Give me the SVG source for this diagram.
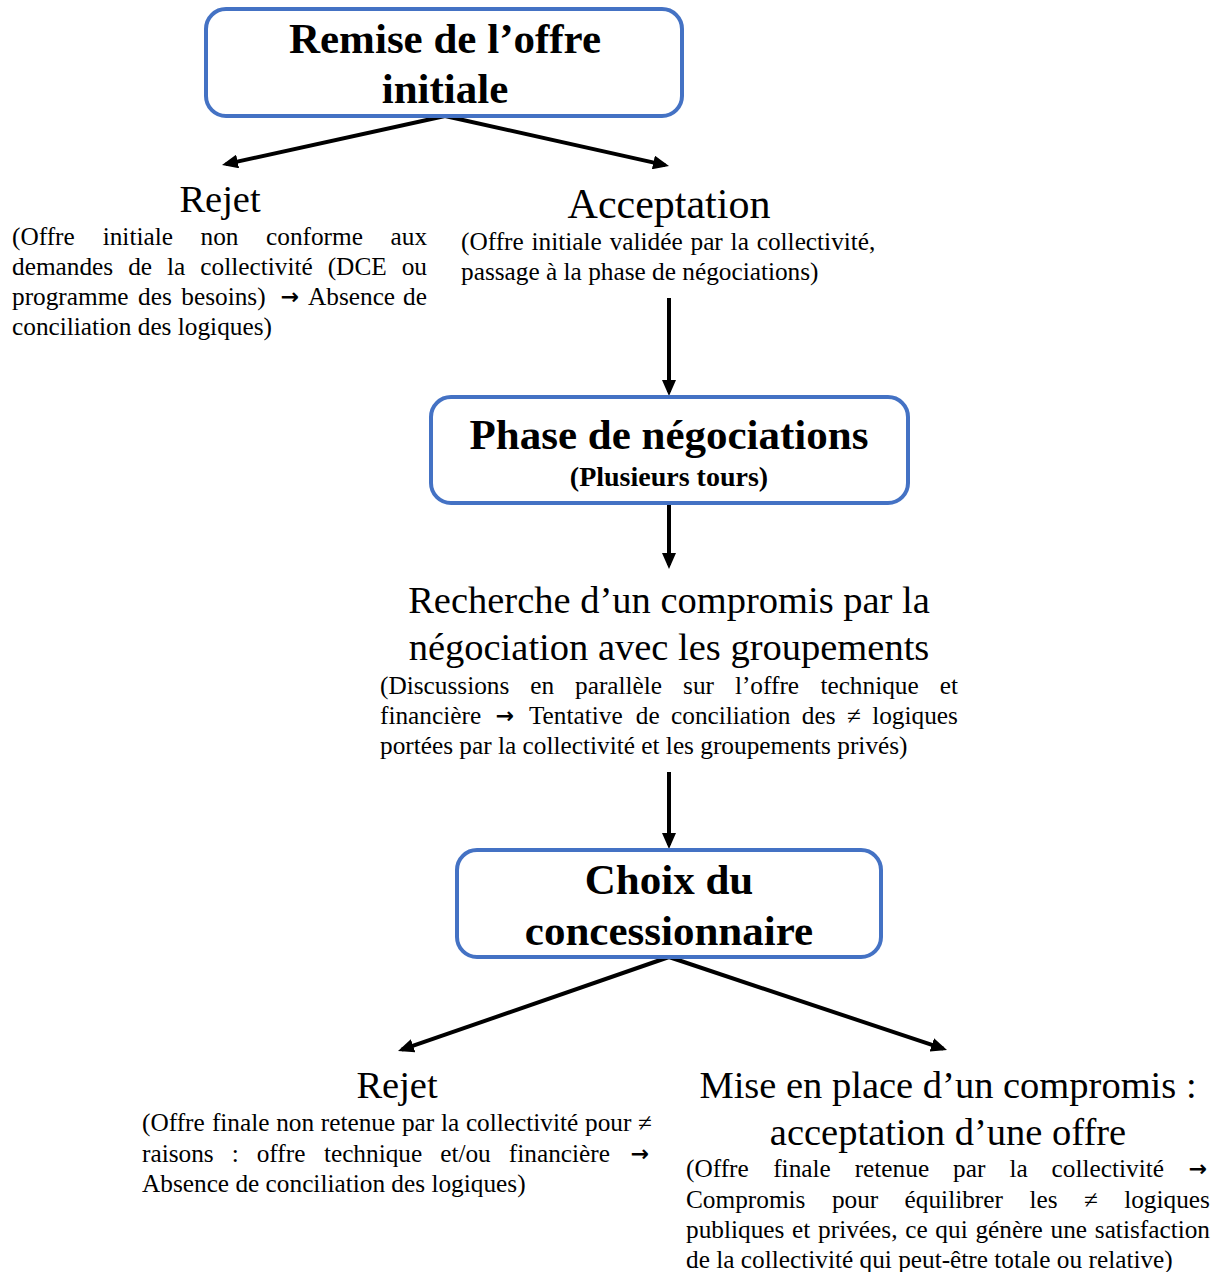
<svg xmlns="http://www.w3.org/2000/svg" width="1221" height="1272" viewBox="0 0 1221 1272">
<style>
text{font-family:"Liberation Serif","Times New Roman",serif;fill:#000}
.h{font-size:38.5px;text-anchor:middle}
.b{font-size:43px;font-weight:bold;text-anchor:middle}
.p{font-size:25.3px}
.s{font-size:25.3px;text-anchor:middle}
.ar{font-family:"DejaVu Sans",sans-serif;font-size:22px;text-anchor:middle;font-weight:bold}
.box{fill:#fff;stroke:#4472C4;stroke-width:4}
.conn{stroke:#000;stroke-width:4;fill:none;marker-end:url(#ah)}
</style>
<defs>
<marker id="ah" markerUnits="userSpaceOnUse" markerWidth="16" markerHeight="14" refX="12" refY="7" orient="auto">
<path d="M0,0 L16,7 L0,14 z" fill="#000"/>
</marker>
</defs>
<rect width="1221" height="1272" fill="#fff"/>

<g id="connectors">
<line class="conn" x1="445" y1="116" x2="225.9" y2="164.1"/>
<line class="conn" x1="445" y1="116" x2="665.1" y2="165.1"/>
<line class="conn" x1="669" y1="298" x2="669" y2="392"/>
<line class="conn" x1="669" y1="505" x2="669" y2="565"/>
<line class="conn" x1="669" y1="772" x2="669" y2="845"/>
<line class="conn" x1="669" y1="957" x2="401.8" y2="1049.7"/>
<line class="conn" x1="669" y1="957" x2="943.2" y2="1048.7"/>
</g>

<g id="n-remise">
<rect class="box" x="206" y="9" width="476" height="107" rx="20"/>
<text class="b" x="445" y="53">Remise de l’offre</text>
<text class="b" x="445" y="103">initiale</text>
</g>

<g id="n-rejet1">
<text class="h" x="220" y="212">Rejet</text>
<text class="p" y="245"><tspan x="12">(Offre</tspan><tspan x="102.7">initiale</tspan><tspan x="200.5">non</tspan><tspan x="266">conforme</tspan><tspan x="390.5">aux</tspan></text>
<text class="p" y="275"><tspan x="12">demandes</tspan><tspan x="128.2">de</tspan><tspan x="167">la</tspan><tspan x="200.3">collectivité</tspan><tspan x="327.7">(DCE</tspan><tspan x="401.7">ou</tspan></text>
<text class="p" y="305"><tspan x="12">programme</tspan><tspan x="138">des</tspan><tspan x="181.3">besoins)</tspan><tspan x="308">Absence</tspan><tspan x="403.1">de</tspan></text>
<text class="ar" x="290" y="304">→</text>
<text class="p" x="12" y="335">conciliation des logiques)</text>
</g>

<g id="n-acceptation">
<text x="669" y="218" style="font-size:42px;text-anchor:middle">Acceptation</text>
<text class="p" x="461" y="250" word-spacing="1.5">(Offre initiale validée par la collectivité,</text>
<text class="p" x="461" y="280">passage à la phase de négociations)</text>
</g>

<g id="n-phase">
<rect class="box" x="431" y="397" width="477" height="106" rx="20"/>
<text class="b" x="669" y="449">Phase de négociations</text>
<text x="669" y="486" style="font-size:28px;font-weight:bold;text-anchor:middle">(Plusieurs tours)</text>
</g>

<g id="n-recherche">
<text class="h" x="669" y="613">Recherche d’un compromis par la</text>
<text class="h" x="669" y="660">négociation avec les groupements</text>
<text class="p" y="694"><tspan x="380">(Discussions</tspan><tspan x="530.2">en</tspan><tspan x="575">parallèle</tspan><tspan x="683.1">sur</tspan><tspan x="734.9">l’offre</tspan><tspan x="820.4">technique</tspan><tspan x="939.7">et</tspan></text>
<text class="p" y="724"><tspan x="380">financière</tspan><tspan x="528.9">Tentative</tspan><tspan x="635.8">de</tspan><tspan x="671">conciliation</tspan><tspan x="801.8">des</tspan><tspan x="872.2">logiques</tspan></text>
<text class="ar" x="505" y="723">→</text>
<text class="s" x="854" y="724">≠</text>
<text class="p" x="380" y="754">portées par la collectivité et les groupements privés)</text>
</g>

<g id="n-choix">
<rect class="box" x="457" y="850" width="424" height="107" rx="20"/>
<text class="b" x="669" y="894">Choix du</text>
<text class="b" x="669" y="945">concessionnaire</text>
</g>

<g id="n-rejet2">
<text class="h" x="397" y="1098">Rejet</text>
<text class="p" y="1131"><tspan x="142">(Offre</tspan><tspan x="211.9">finale</tspan><tspan x="276.2">non</tspan><tspan x="320.8">retenue</tspan><tspan x="401.9">par</tspan><tspan x="440.9">la</tspan><tspan x="465.9">collectivité</tspan><tspan x="585">pour</tspan></text>
<text class="s" x="645" y="1131">≠</text>
<text class="p" y="1162"><tspan x="142">raisons</tspan><tspan x="231.7">:</tspan><tspan x="256.7">offre</tspan><tspan x="323.9">technique</tspan><tspan x="440.2">et/ou</tspan><tspan x="508.8">financière</tspan></text>
<text class="ar" x="640" y="1161">→</text>
<text class="p" x="142" y="1192">Absence de conciliation des logiques)</text>
</g>

<g id="n-compromis">
<text class="h" x="948" y="1098">Mise en place d’un compromis :</text>
<text class="h" x="948" y="1145">acceptation d’une offre</text>
<text class="p" y="1177"><tspan x="686">(Offre</tspan><tspan x="773.2">finale</tspan><tspan x="854.7">retenue</tspan><tspan x="953.1">par</tspan><tspan x="1009.4">la</tspan><tspan x="1051.6">collectivité</tspan></text>
<text class="ar" x="1198" y="1176">→</text>
<text class="p" y="1208"><tspan x="686">Compromis</tspan><tspan x="831.9">pour</tspan><tspan x="904.6">équilibrer</tspan><tspan x="1029.4">les</tspan><tspan x="1124.2">logiques</tspan></text>
<text class="s" x="1091" y="1208">≠</text>
<text class="p" x="686" y="1238" word-spacing="1.4">publiques et privées, ce qui génère une satisfaction</text>
<text class="p" x="686" y="1268">de la collectivité qui peut-être totale ou relative)</text>
</g>
</svg>
